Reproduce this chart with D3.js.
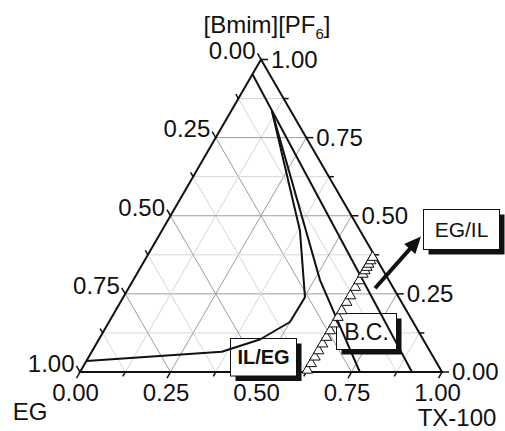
<!DOCTYPE html>
<html>
<head>
<meta charset="utf-8">
<script src="https://cdn.jsdelivr.net/npm/d3@7"></script>
<style>
  body { margin: 0; background: #fff; }
  svg { display: block; }
  text { font-family: "Liberation Sans", Arial, sans-serif; fill: #111; }
</style>
</head>
<body>
<svg id="chart" width="505" height="431"></svg>
<script>
// ternary data, every point is [TX-100, [Bmim][PF6]] mass fraction (EG = rest)
const tickValues = [0, 0.125, 0.25, 0.375, 0.5, 0.625, 0.75, 0.875, 1];
const majorValues = [0, 0.25, 0.5, 0.75, 1];
const majorLabels = ["0.00", "0.25", "0.50", "0.75", "1.00"];
const gridValues = [0.125, 0.25, 0.375, 0.5, 0.625, 0.75, 0.875];

const binodal = [[0.112, 0.836], [0.381, 0.453], [0.502, 0.239], [0.500, 0.160],
                 [0.445, 0.104], [0.359, 0.065], [0.000, 0.035]];
const lineA = [[0.000, 0.953], [0.917, 0.000]];
const lineB = [[0.112, 0.836], [0.516, 0.294], [0.773, 0.000]];

// experimental path (open triangles)
const pathPoints = [[0.625, 0.006], [0.625, 0.027], [0.625, 0.048], [0.625, 0.068],
                    [0.625, 0.090], [0.625, 0.111], [0.625, 0.132], [0.625, 0.154],
                    [0.625, 0.175], [0.625, 0.196], [0.625, 0.223], [0.625, 0.244],
                    [0.625, 0.271], [0.625, 0.292], [0.625, 0.313], [0.625, 0.324],
                    [0.625, 0.335], [0.625, 0.345], [0.625, 0.356], [0.625, 0.367]];

const arrowFrom = [0.681, 0.268];
const arrowTo = [0.725, 0.434];

const svg = d3.select("#chart");

const sx = d3.scaleLinear().domain([0, 1]).range([80, 442]);
const sy = d3.scaleLinear().domain([0, 1]).range([372, 59.5]);
const proj = ([t, b]) => [sx(t + b / 2), sy(b)];
const line = d3.line().x(d => proj(d)[0]).y(d => proj(d)[1]);

const g = svg.append("g");

// grid
gridValues.forEach(v => {
  const major = majorValues.includes(v);
  const segs = [
    [[0, v], [1 - v, v]],       // constant Bmim
    [[v, 0], [v, 1 - v]],       // constant TX
    [[1 - v, 0], [0, 1 - v]]    // constant EG
  ];
  segs.forEach(s => {
    g.append("path")
      .attr("d", line(s))
      .attr("fill", "none")
      .attr("stroke", major ? "#9c9c9c" : "#d6d6d6")
      .attr("stroke-width", 1);
  });
});

// triangle frame
g.append("path")
  .attr("d", line([[0, 0], [1, 0], [0, 1]]) + "Z")
  .attr("fill", "none")
  .attr("stroke", "#111")
  .attr("stroke-width", 2)
  .attr("stroke-linejoin", "miter");

// ticks + labels
const dirBottom = [-0.5, 0.866];
const dirLeft = [-0.5, -0.866];
const dirRight = [1, 0];

tickValues.forEach(v => {
  const major = majorValues.includes(v);
  const len = major ? 7 : 5;
  const axes = [
    { p: proj([v, 0]), d: dirBottom },
    { p: proj([0, 1 - v]), d: dirLeft },
    { p: proj([1 - v, v]), d: dirRight }
  ];
  axes.forEach((a, i) => {
    const e = [a.p[0] + a.d[0] * len, a.p[1] + a.d[1] * len];
    g.append("line")
      .attr("x1", a.p[0]).attr("y1", a.p[1])
      .attr("x2", e[0]).attr("y2", e[1])
      .attr("stroke", "#111")
      .attr("stroke-width", 1.5);
    if (!major) return;
    const lab = majorLabels[majorValues.indexOf(v)];
    const t = g.append("text").attr("font-size", "24px").text(lab);
    if (i === 0) {
      t.attr("x", e[0] - 1).attr("y", e[1] + 23).attr("text-anchor", "middle");
    } else if (i === 1) {
      t.attr("x", e[0] - 2).attr("y", e[1] - 2.5).attr("dy", "0.35em").attr("text-anchor", "end");
    } else {
      t.attr("x", e[0] + 3).attr("y", e[1]).attr("dy", "0.35em").attr("text-anchor", "start");
    }
  });
});

// boxed annotations
function box(x, y, w, h, label, size, weight) {
  g.append("rect").attr("x", x + 5).attr("y", y + 5).attr("width", w).attr("height", h)
    .attr("fill", "#111");
  g.append("rect").attr("x", x).attr("y", y).attr("width", w).attr("height", h)
    .attr("fill", "#fff").attr("stroke", "#111").attr("stroke-width", 1);
  g.append("text")
    .attr("x", x + w / 2).attr("y", y + h / 2).attr("dy", "0.36em")
    .attr("text-anchor", "middle")
    .attr("font-size", size).attr("font-weight", weight)
    .text(label);
}
box(230.5, 338.5, 66, 37.5, "IL/EG", "20px", "bold");
box(336.5, 313.5, 60, 36, "B.C.", "23px", "normal");
box(423.5, 209.5, 76, 40, "EG/IL", "21px", "normal");

// data lines
[lineA, lineB, binodal].forEach(d => {
  g.append("path")
    .attr("d", line(d))
    .attr("fill", "none")
    .attr("stroke", "#111")
    .attr("stroke-width", 2)
    .attr("stroke-linejoin", "round");
});

// open triangles
const tri = d3.symbol().type(d3.symbolTriangle).size(48);
g.selectAll(".pt").data(pathPoints).join("path")
  .attr("class", "pt")
  .attr("transform", d => `translate(${proj(d)[0]},${proj(d)[1]})`)
  .attr("d", tri)
  .attr("fill", "#fff")
  .attr("stroke", "#111")
  .attr("stroke-width", 1);

// arrow
const s = proj(arrowFrom), tp = proj(arrowTo);
const dx = tp[0] - s[0], dy = tp[1] - s[1], L = Math.hypot(dx, dy);
const u = [dx / L, dy / L], n = [-u[1], u[0]];
const hb = [tp[0] - u[0] * 17, tp[1] - u[1] * 17];
g.append("line")
  .attr("x1", s[0]).attr("y1", s[1]).attr("x2", hb[0] + u[0] * 2).attr("y2", hb[1] + u[1] * 2)
  .attr("stroke", "#111").attr("stroke-width", 4);
g.append("path")
  .attr("d", `M${tp[0]},${tp[1]}L${hb[0] + n[0] * 7.5},${hb[1] + n[1] * 7.5}L${hb[0] - n[0] * 7.5},${hb[1] - n[1] * 7.5}Z`)
  .attr("fill", "#111");

// axis titles
const title = g.append("text").attr("x", 267).attr("y", 33)
  .attr("text-anchor", "middle").attr("font-size", "24px");
title.append("tspan").text("[Bmim][PF");
title.append("tspan").attr("font-size", "15px").attr("dy", 6).text("6");
title.append("tspan").attr("dy", -6).text("]");

g.append("text").attr("x", 30).attr("y", 420).attr("text-anchor", "middle")
  .attr("font-size", "24px").text("EG");
g.append("text").attr("x", 457).attr("y", 426).attr("text-anchor", "middle")
  .attr("font-size", "24px").text("TX-100");
</script>
</body>
</html>
